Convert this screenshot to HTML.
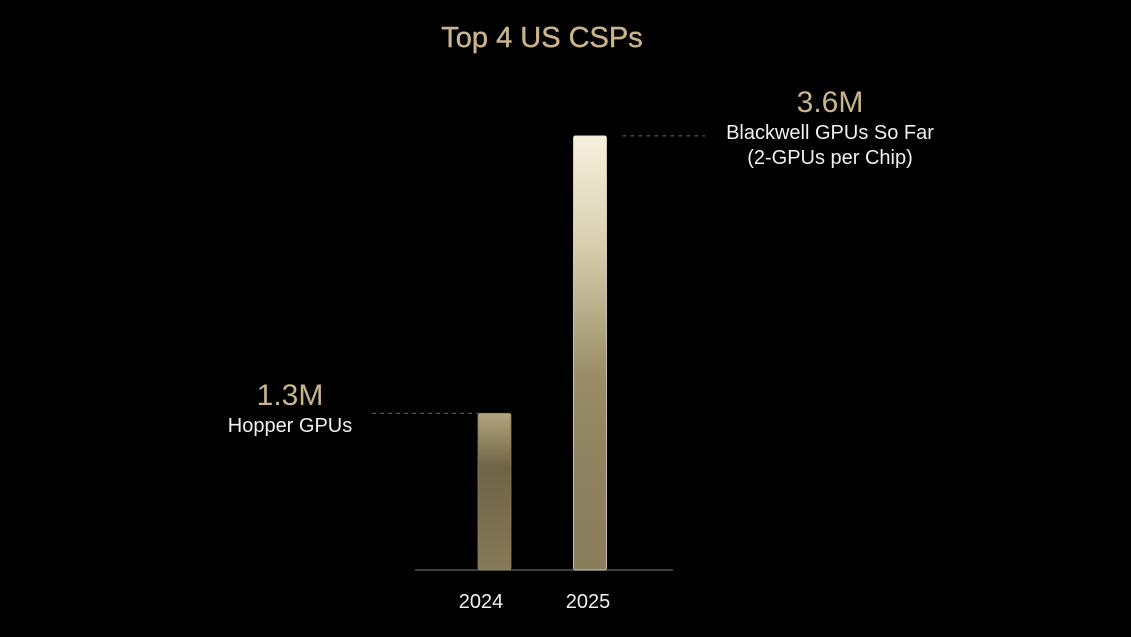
<!DOCTYPE html>
<html><head><meta charset="utf-8"><style>
html,body{margin:0;padding:0;background:#000;width:1131px;height:637px;overflow:hidden}
svg{display:block;font-family:"Liberation Sans",sans-serif}
</style></head><body>
<svg id="chart" width="1131" height="637" viewBox="0 0 1131 637">
<defs>
<linearGradient id="g24" x1="0" y1="0" x2="0" y2="1">
<stop offset="0" stop-color="#b4a67e"/><stop offset="0.35" stop-color="#6e6346"/><stop offset="1" stop-color="#877a58"/></linearGradient>
<linearGradient id="g25" x1="0" y1="0" x2="0" y2="1">
<stop offset="0" stop-color="#f6f1df"/><stop offset="0.25" stop-color="#d8cfae"/><stop offset="0.55" stop-color="#9a8d68"/><stop offset="0.75" stop-color="#8f8260"/><stop offset="1" stop-color="#8a7d5b"/></linearGradient>
</defs>
<text x="542" y="47" text-anchor="middle" font-size="29" fill="#c9b58b" stroke="#c9b58b" stroke-width="0.4">Top 4 US CSPs</text>
<line x1="415" y1="570" x2="673" y2="570" stroke="#555" stroke-width="1.5"/>
<g id="bars"></g>
</svg>
<script>
const categories = ["2024", "2025"];
const values = [1.3, 3.6];
const valueLabels = ["1.3M", "3.6M"];
const descLines = [["Hopper GPUs"], ["Blackwell GPUs So Far", "(2-GPUs per Chip)"]];

const baseY = 570, pxPerUnit = 120.6;
const yScale = v => baseY - v * pxPerUnit;
const xCenter = i => 494.5 + i * 95.5;
const labelCenter = i => 481 + i * 107;
const barW = 33;
const ns = "http://www.w3.org/2000/svg";
const g = document.getElementById("bars");
function mk(tag, attrs){const e=document.createElementNS(ns,tag);for(const k in attrs)e.setAttribute(k,attrs[k]);g.appendChild(e);return e;}

categories.forEach((c,i)=>{
  const top = yScale(values[i]);
  const x = xCenter(i)-barW/2;
  const r = mk("rect",{x:x,y:top,width:barW,height:baseY-top,rx:2,fill:i===0?"url(#g24)":"url(#g25)",stroke:i===0?"#8a7d5a":"#e8e0c4","stroke-width":0.8});
  
  
  const t = mk("text",{x:labelCenter(i),y:608,"text-anchor":"middle","font-size":20,fill:"#f0f0f0"});
  t.textContent = c;
  
  
  const left = i===0;
  const lx1 = left ? 372 : x+barW+16, lx2 = left ? x : 705;
  const l = mk("line",{x1:lx1,y1:top,x2:lx2,y2:top,stroke:"#666","stroke-dasharray":"4 4","stroke-width":1});
  
  
  const cx = left ? 290 : 830;
  const vOff = left ? -8 : -24;
  const dOff = left ? 19 : 3;
  const v = mk("text",{x:cx,y:top+vOff,"text-anchor":"middle","font-size":30,fill:"#c9b58b"});
  v.textContent = valueLabels[i];
  
  
  descLines[i].forEach((s,j)=>{
    const d = mk("text",{x:cx,y:top+dOff+j*25,"text-anchor":"middle","font-size":20,fill:"#f0f0f0"});
    d.textContent = s;
    
    
  });
});
</script>
</body></html>
